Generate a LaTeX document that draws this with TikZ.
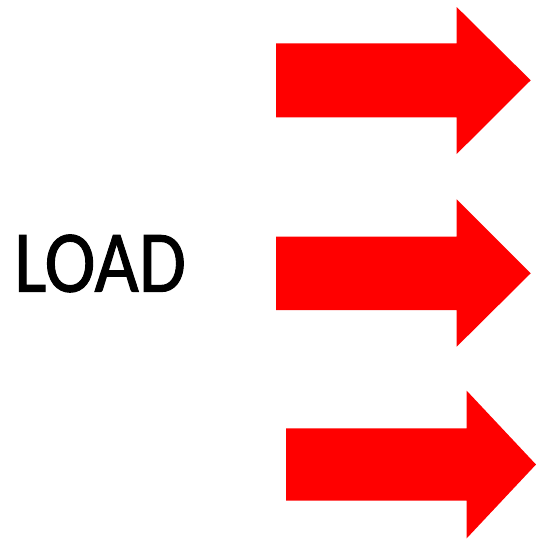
\documentclass[tikz,border=0pt]{standalone}
\usepackage{fontspec}
\setmainfont{Carlito}
\newfontfamily\loadfont[FakeBold=1.2]{Carlito}
\begin{document}
\begin{tikzpicture}[x=1pt,y=-1pt,
  blockarrow/.style={fill=red,draw=none}]
\useasboundingbox (0,0) rectangle (536,539);
\node[anchor=base west,inner sep=0pt,xscale=0.87,font=\loadfont\fontsize{88}{88}\selectfont] (load) at (14,291.7) {LOAD};
\fill[blockarrow] (276,43.3) -- (456.7,43.3) -- (456.7,7) -- (530.7,80.3) -- (456.7,154) -- (456.7,117.3) -- (276,117.3) -- cycle;
\fill[blockarrow] (276,236.7) -- (456.7,236.7) -- (456.7,199.3) -- (530.7,273.3) -- (456.7,346.7) -- (456.7,310) -- (276,310) -- cycle;
\fill[blockarrow] (286,428.3) -- (466.7,428.3) -- (466.7,390.7) -- (536,464.5) -- (466.7,538.3) -- (466.7,500.7) -- (286,500.7) -- cycle;
\end{tikzpicture}
\end{document}
